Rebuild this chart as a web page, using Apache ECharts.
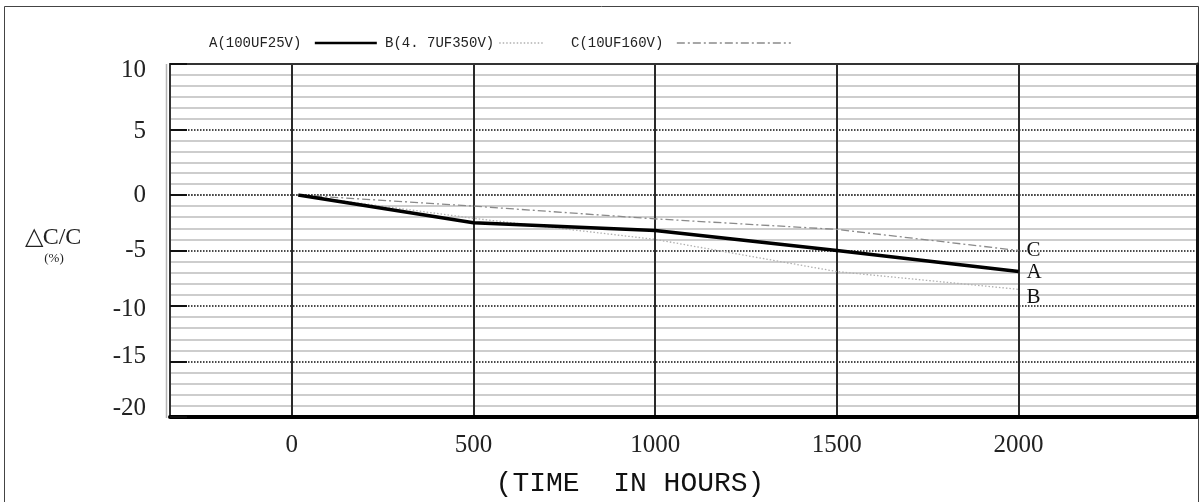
<!DOCTYPE html>
<html>
<head>
<meta charset="utf-8">
<script src="https://cdn.jsdelivr.net/npm/echarts@6/dist/echarts.min.js"></script>
<style>
  html, body { margin: 0; padding: 0; background: #fff; }
  #chart { width: 1202px; height: 502px; }
</style>
</head>
<body>
<div id="chart"></div>
<script>
// Capacitance change during load life test
const hours = [18, 500, 1000, 1500, 2000];
const capA = [0, -2.5, -3.2, -5.0, -6.9];   // A(100UF25V)
const capB = [0, -2.1, -4.0, -6.9, -8.5];   // B(4.7UF350V)
const capC = [0, -1.0, -2.15, -3.1, -5.0];  // C(10UF160V)
const seriesNames = ['A(100UF25V)', 'B(4. 7UF350V)', 'C(10UF160V)'];
const endTags = ['A', 'B', 'C'];
const xTicks = [0, 500, 1000, 1500, 2000];
const yTicksUpper = [10, 5];
const yTicksLower = [0, -5, -10, -15, -20];

const SERIF = "'Liberation Serif', 'Times New Roman', serif";
const MONO = "'Liberation Mono', 'DejaVu Sans Mono', monospace";

// small vertical nudges for some y labels (px, + = down)
const yNudge = { '10': 6, '5': 2, '-10': 3, '-15': -5, '-20': -9 };
const yRich = {};
Object.keys(yNudge).forEach(function (k, i) {
  const d = yNudge[k];
  yRich['n' + i] = {
    fontFamily: SERIF, fontSize: 25, color: '#222',
    padding: d > 0 ? [2 * d, 0, 0, 0] : [0, 0, -2 * d, 0]
  };
});
function yLabel(v) {
  const keys = Object.keys(yNudge);
  const i = keys.indexOf(String(v));
  return i >= 0 ? '{n' + i + '|' + v + '}' : String(v);
}

const pairs = (xs, ys) => xs.map((x, i) => [x, ys[i]]);

const X_MIN = -335, X_MAX = 2491;
const gridL = 170, gridR = 5;

const xAxisCommon = {
  type: 'value', min: X_MIN, max: X_MAX,
  minInterval: 500, maxInterval: 500, splitNumber: 5,
  axisTick: { show: false },
  splitLine: { show: true, lineStyle: { color: '#2a2a2a', width: 2 } }
};

const yAxisLeft = (grid, min, max, minorSplit, ticks) => ({
  type: 'value', gridIndex: grid, min: min, max: max, interval: 5,
  position: 'left',
  axisLine: { show: true, onZero: false, lineStyle: { color: '#333', width: 2 } },
  axisTick: { show: true, inside: true, length: 17, lineStyle: { color: '#111', width: 2 } },
  minorTick: { show: false, splitNumber: minorSplit },
  minorSplitLine: { show: true, lineStyle: { color: '#cdcdcd', width: 2 } },
  splitLine: { show: true, lineStyle: { color: '#4a4a4a', width: 2, type: [1.5, 1.5] } },
  axisLabel: {
    margin: 24, fontFamily: SERIF, fontSize: 25, color: '#222',
    formatter: v => ticks.indexOf(v) >= 0 ? yLabel(v) : '',
    rich: yRich
  }
});

const yAxisRight = (grid, min, max) => ({
  type: 'value', gridIndex: grid, min: min, max: max, position: 'right',
  axisLine: { show: true, onZero: false, lineStyle: { color: '#111', width: 3 } },
  axisTick: { show: false }, axisLabel: { show: false }, splitLine: { show: false }
});

const lineStyles = [
  { color: '#000', width: 3.5 },
  { color: '#b0b0b0', width: 1.3, type: [1.5, 2] },
  { color: '#8a8a8a', width: 1.3, type: [8, 3, 2, 3] }
];
const capData = [capA, capB, capC];
const endOffsets = [[0, 1], [0, 8], [0, 0]];

const series = capData.map((vals, i) => ({
  name: seriesNames[i],
  type: 'line',
  xAxisIndex: 1, yAxisIndex: 1,
  data: pairs(hours, vals),
  symbol: 'none',
  smooth: false,
  z: i === 0 ? 5 : 3,
  lineStyle: lineStyles[i],
  itemStyle: { color: lineStyles[i].color },
  endLabel: {
    show: true, formatter: endTags[i], distance: 8, offset: endOffsets[i],
    fontFamily: SERIF, fontSize: 21, color: '#111'
  }
}));

const legendLefts = [204, 380, 566];
const legendWidths = [62, 44, 114];
const legendPad = [' ', '', ' '];
const legend = seriesNames.map((n, i) => ({
  data: [n],
  left: legendLefts[i], top: 31,
  align: 'right',
  itemWidth: legendWidths[i], itemHeight: 14,
  formatter: name => name + legendPad[i],
  textStyle: { fontFamily: MONO, fontSize: 14, color: '#222' },
  itemStyle: { opacity: 0 },
  lineStyle: i === 0 ? { width: 2.5 } : { width: 1.3 },
  selectedMode: false
}));

const option = {
  animation: false,
  backgroundColor: '#fff',
  legend: legend,
  grid: [
    { left: gridL, right: gridR, top: 64, height: 131 },
    { left: gridL, right: gridR, top: 195, height: 222 }
  ],
  xAxis: [
    Object.assign({}, xAxisCommon, {
      gridIndex: 0, position: 'top',
      axisLine: { show: true, onZero: false, lineStyle: { color: '#333', width: 2 } },
      axisLabel: { show: false }
    }),
    Object.assign({}, xAxisCommon, {
      gridIndex: 1, position: 'bottom',
      axisLine: { show: true, onZero: false, lineStyle: { color: '#000', width: 4 } },
      axisLabel: {
        margin: 16, fontFamily: SERIF, fontSize: 25, color: '#222',
        formatter: v => xTicks.indexOf(v) >= 0 ? String(v) : ''
      }
    })
  ],
  yAxis: [
    yAxisLeft(0, 0, 10, 6, yTicksUpper),
    yAxisLeft(1, -20, 0, 5, yTicksLower),
    yAxisRight(0, 0, 10),
    yAxisRight(1, -20, 0)
  ],
  series: series,
  graphic: [
    { type: 'rect', silent: true, z: -1,
      shape: { x: 4.5, y: 6.5, width: 1194, height: 520 },
      style: { fill: 'none', stroke: '#444', lineWidth: 1 } },
    { type: 'line', silent: true,
      shape: { x1: 166.5, y1: 64, x2: 166.5, y2: 418 },
      style: { stroke: '#b5b5b5', lineWidth: 1.5 } },
    { type: 'text', silent: true,
      style: { text: '△C/C', x: 53, y: 238, textAlign: 'center', textVerticalAlign: 'middle',
               font: '24px ' + SERIF, fill: '#222' } },
    { type: 'text', silent: true,
      style: { text: '(%)', x: 54, y: 259, textAlign: 'center', textVerticalAlign: 'middle',
               font: '13px ' + SERIF, fill: '#222' } },
    { type: 'text', silent: true,
      style: { text: '(TIME  IN HOURS)', x: 630, y: 484, textAlign: 'center', textVerticalAlign: 'middle',
               font: '28px ' + MONO, fill: '#111' } }
  ]
};

const chart = echarts.init(document.getElementById('chart'), null, { renderer: 'canvas' });
chart.setOption(option);
</script>
</body>
</html>
